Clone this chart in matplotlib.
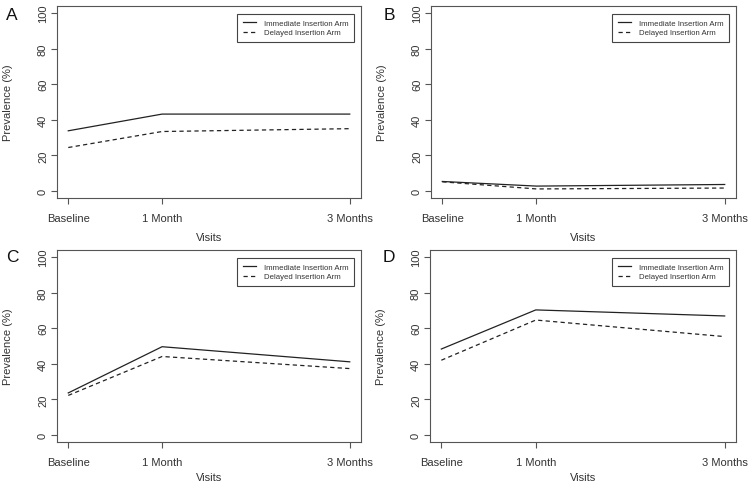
import matplotlib
matplotlib.use("Agg")
import matplotlib.pyplot as plt

# visit positions (months since insertion) and labels
visit_pos = [0, 1, 3]
visit_labels = ["Baseline", "1 Month", "3 Months"]
yticks = [0, 20, 40, 60, 80, 100]

panel_letters = ["A", "B", "C", "D"]
series_names = ["Immediate Insertion Arm", "Delayed Insertion Arm"]

# prevalence (%)
immediate_a = [33.8, 43.2, 43.2]
delayed_a = [24.4, 33.4, 35.0]
immediate_b = [5.3, 2.7, 3.6]
delayed_b = [5.1, 1.1, 1.6]
immediate_c = [23.6, 49.6, 41.1]
delayed_c = [22.2, 44.1, 37.3]
immediate_d = [48.3, 70.3, 66.9]
delayed_d = [42.0, 64.6, 55.3]

panels = [
    (immediate_a, delayed_a),
    (immediate_b, delayed_b),
    (immediate_c, delayed_c),
    (immediate_d, delayed_d),
]

plt.rcParams["font.family"] = ["Liberation Sans", "DejaVu Sans"]

W, H = 754, 489
fig = plt.figure(figsize=(W / 100, H / 100), dpi=100)

# axes boxes in pixels: left, top, right, bottom
boxes = [(57, 7, 361, 199), (431, 7, 736, 199),
         (57, 251, 361, 443), (430, 251, 736, 443)]
letter_pos = [(12, 15), (389, 15), (12, 258), (389, 258)]
xlabel_y = [-0.177, -0.177, -0.156, -0.156]

box_col = "#555555"
text_col = "#333333"
line_col = "#222222"

for i, (imm, dly) in enumerate(panels):
    l, t, r, b = boxes[i]
    ax = fig.add_axes([l / W, 1 - b / H, (r - l) / W, (b - t) / H])
    ax.plot(visit_pos, imm, color=line_col, lw=0.9, label=series_names[0])
    ax.plot(visit_pos, dly, color=line_col, lw=0.9, linestyle=(0, (3.4, 2.6)),
            label=series_names[1])

    ax.set_xlim(-0.12, 3.12)
    ax.set_ylim(-4, 104)
    ax.set_xticks(visit_pos)
    ax.set_xticklabels(visit_labels)
    ax.set_yticks(yticks)
    for s in ax.spines.values():
        s.set_color(box_col)
        s.set_linewidth(0.8)
    ax.tick_params(axis="both", direction="out", length=4, width=0.8,
                   color=box_col, labelcolor=text_col, labelsize=8)
    ax.tick_params(axis="x", pad=6.5)
    ax.tick_params(axis="y", pad=2.5, labelrotation=90)
    for lab in ax.get_yticklabels():
        lab.set_va("center")

    ax.set_ylabel("Prevalence (%)", fontsize=8, color=text_col)
    ax.yaxis.set_label_coords(-0.145, 0.5)
    ax.set_xlabel("Visits", fontsize=8, color=text_col)
    ax.xaxis.set_label_coords(0.5, xlabel_y[i])

    leg = ax.legend(loc="upper right", bbox_to_anchor=(0.977, 0.958),
                    borderaxespad=0, fontsize=5.6, frameon=True,
                    fancybox=False, framealpha=1, edgecolor="#444444",
                    handlelength=1.7, handletextpad=1.0, borderpad=0.7,
                    labelspacing=0.25)
    leg.get_frame().set_linewidth(0.8)
    for txt in leg.get_texts():
        txt.set_color(text_col)

    lx, ly = letter_pos[i]
    fig.text(lx / W, 1 - ly / H, panel_letters[i], fontsize=12.5,
             ha="center", va="center", color="#111111")

fig.savefig("out.png", dpi=100)
